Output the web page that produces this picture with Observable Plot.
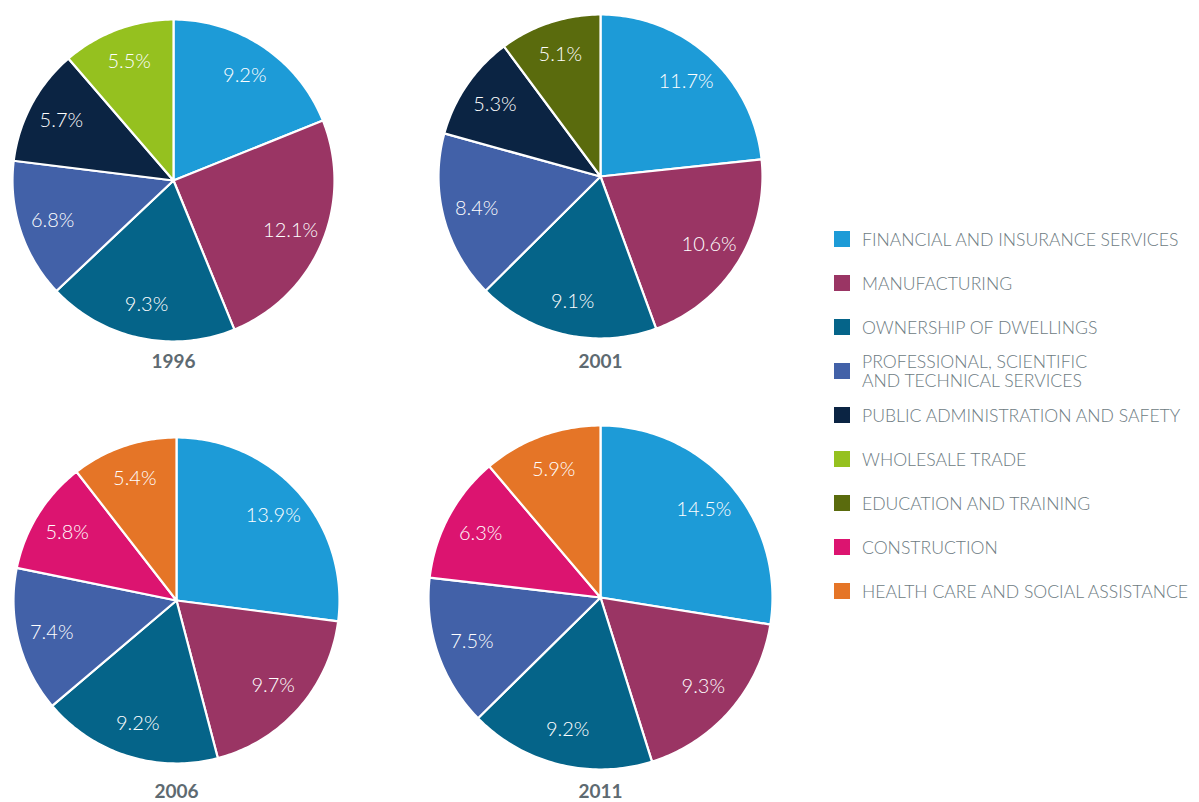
<!DOCTYPE html>
<html><head><meta charset="utf-8">
<script src="https://cdn.jsdelivr.net/npm/d3@7"></script>
<script src="https://cdn.jsdelivr.net/npm/@observablehq/plot@0.6"></script>
<style>
body{margin:0;background:#fff;}
#root{position:relative;width:1199px;height:802px;overflow:hidden;font-family:Lato,"Open Sans",sans-serif;}
.pie{position:absolute;}
#legend{position:absolute;left:834px;top:217px;}
.item{display:flex;align-items:center;height:44px;}
.sw{width:16px;height:16px;flex:none;margin-right:12px;}
.lab{font-size:17.6px;line-height:19px;color:#6d7b82;font-weight:300;white-space:nowrap;}
</style></head>
<body><div id="root"><div id="legend"></div></div>
<script>
const sectors = [
  "FINANCIAL AND INSURANCE SERVICES",
  "MANUFACTURING",
  "OWNERSHIP OF DWELLINGS",
  "PROFESSIONAL, SCIENTIFIC\nAND TECHNICAL SERVICES",
  "PUBLIC ADMINISTRATION AND SAFETY",
  "WHOLESALE TRADE",
  "EDUCATION AND TRAINING",
  "CONSTRUCTION",
  "HEALTH CARE AND SOCIAL ASSISTANCE"
];
const sectorColors = ["#1d9bd7","#9a3564","#056489","#4261a8","#0b2443","#95c11f","#5a6b0d","#dc1470","#e57527"];

const years = ["1996","2001","2006","2011"];

const slices1996 = [sectors[0], sectors[1], sectors[2], sectors[3], sectors[4], sectors[5]];
const values1996 = [9.2, 12.1, 9.3, 6.8, 5.7, 5.5];

const slices2001 = [sectors[0], sectors[1], sectors[2], sectors[3], sectors[4], sectors[6]];
const values2001 = [11.7, 10.6, 9.1, 8.4, 5.3, 5.1];

const slices2006 = [sectors[0], sectors[1], sectors[2], sectors[3], sectors[7], sectors[8]];
const values2006 = [13.9, 9.7, 9.2, 7.4, 5.8, 5.4];

const slices2011 = [sectors[0], sectors[1], sectors[2], sectors[3], sectors[7], sectors[8]];
const values2011 = [14.5, 9.3, 9.2, 7.5, 6.3, 5.9];

const root = document.getElementById("root");

function makePie(year, names, values, cx, cy, R, yearY) {
  const pad = 10;
  const total = d3.sum(values);
  const polys = [];
  const labels = [];
  let a0 = 0;
  names.forEach((name, i) => {
    const a1 = a0 + values[i] / total * 2 * Math.PI;
    const n = Math.max(2, Math.ceil((a1 - a0) / (Math.PI / 180)));
    polys.push({x: 0, y: 0, name});
    for (let k = 0; k <= n; k++) {
      const a = a0 + (a1 - a0) * k / n;
      polys.push({x: Math.sin(a), y: Math.cos(a), name});
    }
    polys.push({x: 0, y: 0, name});
    const m = (a0 + a1) / 2;
    labels.push({x: Math.sin(m) * 0.79, y: Math.cos(m) * 0.79, text: values[i].toFixed(1) + "%"});
    a0 = a1;
  });
  const plot = Plot.plot({
    width: 2 * R + 2 * pad,
    height: 2 * R + pad + 40,
    marginTop: pad, marginLeft: pad, marginRight: pad, marginBottom: 40,
    x: {domain: [-1, 1], axis: null},
    y: {domain: [-1, 1], axis: null},
    color: {domain: sectors, range: sectorColors},
    style: {background: "transparent", fontFamily: "Lato, 'Open Sans', sans-serif", overflow: "visible"},
    marks: [
      Plot.line(polys, {x: "x", y: "y", z: "name", fill: "name", stroke: "white", strokeWidth: 2.2, strokeLinejoin: "round", curve: "linear"}),
      Plot.text(labels, {x: "x", y: "y", text: "text", fill: "white", fontSize: 20, fontWeight: 300}),
      Plot.text([year], {frameAnchor: "bottom", lineAnchor: "middle", dy: yearY - (cy + R), text: d => d, fill: "#5e6a71", fontSize: 19, fontWeight: "bold"})
    ]
  });
  const div = document.createElement("div");
  div.className = "pie";
  div.style.left = (cx - R - pad) + "px";
  div.style.top = (cy - R - pad) + "px";
  div.appendChild(plot);
  root.appendChild(div);
}

makePie(years[0], slices1996, values1996, 173, 180, 161, 361);
makePie(years[1], slices2001, values2001, 600, 176, 162, 361);
makePie(years[2], slices2006, values2006, 176, 600, 163, 791);
makePie(years[3], slices2011, values2011, 600, 597, 172, 791);

const legend = document.getElementById("legend");
sectors.forEach((s, i) => {
  const item = document.createElement("div");
  item.className = "item";
  const sw = document.createElement("div");
  sw.className = "sw";
  sw.style.background = sectorColors[i];
  const lab = document.createElement("div");
  lab.className = "lab";
  lab.innerHTML = s.replace("\n", "<br>");
  item.appendChild(sw);
  item.appendChild(lab);
  legend.appendChild(item);
});
</script>
</body></html>
